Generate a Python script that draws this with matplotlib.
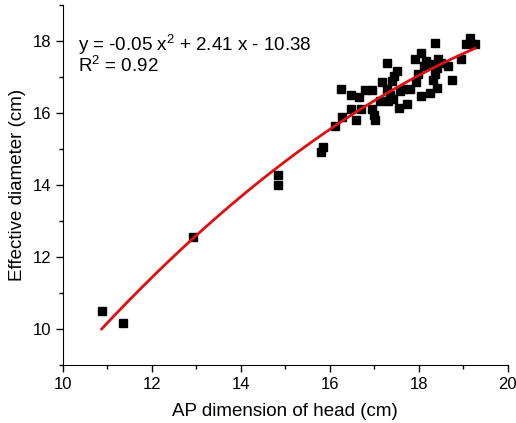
import numpy as np
import matplotlib

matplotlib.use("Agg")

import matplotlib.pyplot as plt
from matplotlib.ticker import MultipleLocator

plt.rcParams["font.family"] = ["Liberation Sans", "DejaVu Sans"]
plt.rcParams["mathtext.fontset"] = "custom"
plt.rcParams["mathtext.rm"] = "Liberation Sans"

ap_dim = [10.87, 11.36, 12.92, 14.84, 14.84, 15.80, 15.84, 16.11, 16.28, 16.58,
          16.24, 16.47, 16.66, 16.79, 16.94, 16.47, 16.69, 16.94, 17.01, 16.99,
          17.12, 17.18, 17.29, 17.50, 17.44, 17.39, 17.29, 17.35, 17.31, 17.42,
          17.56, 17.74, 17.57, 17.65, 17.80, 17.93, 17.98, 17.91, 18.06, 18.17,
          18.23, 18.11, 18.36, 18.43, 18.51, 18.41, 18.36, 18.32, 18.41, 18.25,
          18.06, 18.66, 18.75, 18.96, 19.15, 19.07, 19.26]
eff_diam = [10.49, 10.17, 12.56, 14.28, 14.00, 14.91, 15.05, 15.65, 15.89, 15.82,
            16.68, 16.49, 16.45, 16.63, 16.63, 16.10, 16.12, 16.12, 15.82, 15.96,
            16.33, 16.86, 17.40, 17.17, 17.03, 16.89, 16.66, 16.49, 16.33, 16.38,
            16.15, 16.24, 16.61, 16.66, 16.66, 16.85, 17.08, 17.50, 17.66, 17.45,
            17.36, 17.31, 17.96, 17.50, 17.40, 17.26, 17.08, 16.92, 16.71, 16.57,
            16.47, 17.31, 16.91, 17.50, 18.08, 17.92, 17.92]

x = np.array(ap_dim)
y = np.array(eff_diam)
coef = np.polyfit(x, y, 2)
xs = np.linspace(x.min(), x.max(), 200)

fig = plt.figure(figsize=(5.16, 4.23), dpi=100)
ax = fig.add_axes([0.122, 0.137, 0.862, 0.851])

ax.plot(x, y, "s", color="black", markersize=6.3, zorder=2)
ax.plot(xs, np.polyval(coef, xs), color="#dd1111", linewidth=2, zorder=3)

ax.set_xlim(10, 20)
ax.set_ylim(9, 19)
ax.xaxis.set_major_locator(MultipleLocator(2))
ax.xaxis.set_minor_locator(MultipleLocator(1))
ax.yaxis.set_major_locator(MultipleLocator(2))
ax.yaxis.set_minor_locator(MultipleLocator(1))
ax.spines["top"].set_visible(False)
ax.spines["right"].set_visible(False)
ax.tick_params(which="major", direction="out", length=5, width=1, labelsize=12)
ax.tick_params(which="minor", direction="out", length=3, width=1)

ax.set_xlabel("AP dimension of head (cm)", fontsize=13.5, labelpad=8)
ax.set_ylabel("Effective diameter (cm)", fontsize=13.5, labelpad=5)

ax.text(0.034, 0.925, "y = -0.05 x$^2$ + 2.41 x - 10.38\nR$^2$ = 0.92",
        transform=ax.transAxes, fontsize=13.5, va="top", ha="left",
        linespacing=0.9)

fig.savefig("out.png", dpi=100)
